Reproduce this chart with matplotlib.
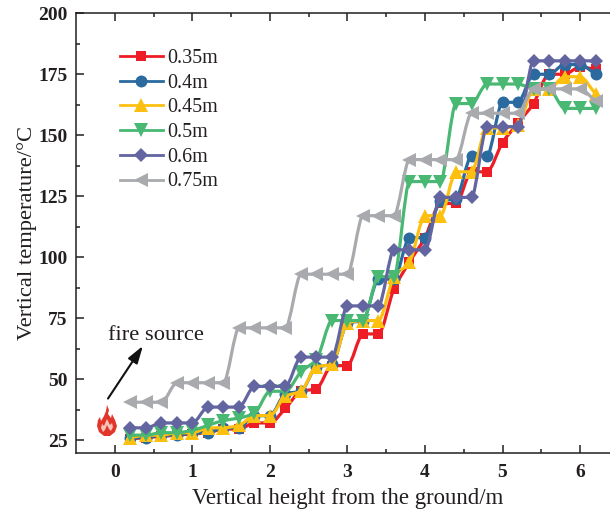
import matplotlib
matplotlib.use('Agg')
import numpy as np
import matplotlib.pyplot as plt
from matplotlib.path import Path
from matplotlib.patches import PathPatch

plt.rcParams['font.family'] = ['Liberation Serif', 'DejaVu Serif']

heights = [round(0.2 * i, 1) for i in range(1, 32)]
t_035 = [25.5, 26, 26.5, 27, 27.5, 28, 29.5, 29.5, 32, 32, 38, 45, 46, 55.5, 55.5, 68.5,
         68.5, 87, 98, 108, 122, 122, 135, 135, 147, 155, 163, 175, 175, 178, 177]
t_04 = [26, 26, 27, 27, 28, 28, 30, 30, 35, 35, 44, 45, 55, 56, 73, 74,
        91, 91, 108, 108, 123, 124, 141.5, 141.5, 163.5, 163.5, 175, 175, 179, 179, 175]
t_045 = [26, 27, 27, 28, 28, 30, 30, 31, 35, 35, 43, 45, 55, 56, 73, 74,
         74, 92, 98, 117, 117, 135, 135, 153, 153, 154, 169, 169, 174, 174, 167]
t_05 = [27, 27, 28, 28, 29, 31, 33, 34, 36, 45, 45, 53, 58, 74, 74, 74,
        92, 92, 131, 131, 131, 163, 163, 171, 171, 171, 169, 169, 161, 161, 161]
t_06 = [30, 30, 32, 32, 32, 38.5, 38.5, 38.5, 47, 47, 47, 59, 59, 59, 80, 80,
        80, 103, 103, 103, 124.5, 124.5, 124.5, 153.5, 153.5, 153.5, 180.5, 180.5, 180.5, 180.5, 180.5]
t_075 = [40.5, 40.5, 40.5, 48.5, 48.5, 48.5, 48.5, 71, 71, 71, 71, 93, 93, 93, 93, 117,
         117, 117, 140, 140, 140, 140, 159, 159, 159, 159, 169, 169, 169, 169, 164]
labels = ['0.35m', '0.4m', '0.45m', '0.5m', '0.6m', '0.75m']
series = [t_035, t_04, t_045, t_05, t_06, t_075]
colors = ['#ee1c25', '#2b6a9f', '#fdc010', '#48b872', '#62659f', '#a9aaae']
markers = ['s', 'o', '^', 'v', 'D', '<']
msizes = [7.2, 8.6, 10, 10, 7.6, 10]
xticks = [0, 1, 2, 3, 4, 5, 6]
yticks = [25, 50, 75, 100, 125, 150, 175, 200]
INK = '#231f20'

W, H = 610, 509
L, R, T, B = 76, 610, 13.3, 452.7
fig = plt.figure(figsize=(W / 100, H / 100), dpi=100)
ax = fig.add_axes([L / W, 1 - B / H, (R - L) / W, (B - T) / H])
ax.set_xlim(-0.503, 6.387)
ax.set_ylim(19.8, 200)


def smooth_path(xs, ys, reach=0.3):
    """Monotone Bezier path through the data points, flat on plateaus."""
    xs, ys = np.asarray(xs), np.asarray(ys, float)
    n = len(xs)
    h = xs[1] - xs[0]
    d = np.diff(ys) / h
    m = np.zeros(n)
    for i in range(1, n - 1):
        if d[i - 1] * d[i] > 0:
            m[i] = 2 * d[i - 1] * d[i] / (d[i - 1] + d[i])
    m[0], m[-1] = d[0], d[-1]
    verts, codes = [(xs[0], ys[0])], [Path.MOVETO]
    for i in range(n - 1):
        verts += [(xs[i] + h * reach, ys[i] + m[i] * h * reach),
                  (xs[i + 1] - h * reach, ys[i + 1] - m[i + 1] * h * reach),
                  (xs[i + 1], ys[i + 1])]
        codes += [Path.CURVE4] * 3
    return Path(verts, codes)


for lab, vals, c, mk, ms in zip(labels, series, colors, markers, msizes):
    ax.add_patch(PathPatch(smooth_path(heights, vals), fc='none', ec=c, lw=2.3, zorder=3))
    ax.plot(heights, vals, ls='none', marker=mk, ms=ms, color=c, mew=0, zorder=3, clip_on=False)
    ax.plot([], [], color=c, lw=2.0, marker=mk, ms=ms, mew=0, label=lab)

ax.legend(loc='upper left', bbox_to_anchor=((119.5 - L) / (R - L), (B - 49) / (B - T)), frameon=False, fontsize=14.4,
          labelcolor=INK, handlelength=2.15, handletextpad=0.25, labelspacing=0.285,
          borderpad=0, borderaxespad=0)

ax.spines['right'].set_visible(False)
for s in ['left', 'bottom', 'top']:
    ax.spines[s].set_linewidth(1.1)
    ax.spines[s].set_color(INK)
ax.set_xticks(xticks)
ax.set_xticks([0.5 + i for i in range(6)], minor=True)
ax.set_yticks(yticks)
ax.set_yticks([37.5 + 25 * i for i in range(7)], minor=True)
ax.tick_params(axis='both', which='major', direction='in', length=6, width=1.1, labelsize=14,
               color=INK, labelcolor=INK, top=True)
ax.tick_params(axis='x', which='major', pad=8)
ax.tick_params(axis='y', which='major', pad=6)
ax.tick_params(axis='both', which='minor', direction='in', length=3, width=1.1, color=INK, top=True)
for t in ax.get_xticklabels() + ax.get_yticklabels():
    t.set_fontweight('bold')
ax.set_xlabel('Vertical height from the ground/m', fontsize=16.4, color=INK, labelpad=5, x=0.508)
ax.set_ylabel('Vertical temperature/°C', fontsize=16.2, color=INK, labelpad=1)

ax.annotate('', xy=(0.36, 63.6), xytext=(-0.09, 42), annotation_clip=False,
            arrowprops=dict(arrowstyle='-|>,head_length=0.7,head_width=0.22', color='#111111', lw=1.5,
                            mutation_scale=15, shrinkA=0, shrinkB=0))
ax.text(-0.09, 68, 'fire source', fontsize=16.2, color=INK, va='center', ha='left')

# flame icon
fl = fig.add_axes([97 / W, 1 - 436 / H, 20 / W, 31 / H])
fl.axis('off')
fl.set_xlim(0, 20)
fl.set_ylim(31, 0)
outer = [(10, 0), (12, 5), (11, 9), (14, 13), (15, 9), (18, 15), (20, 21), (18, 27), (13, 31), (7, 31),
         (2, 27), (0, 21), (1, 15), (3, 12), (4, 16), (7, 11), (9, 6)]
gap = [(10, 14), (13, 20), (15, 18), (16, 22), (14, 26), (12, 24), (10, 20), (8, 25), (6, 27), (4, 23), (5, 19), (7, 21)]
fl.fill(*zip(*outer), color='#e2362b', lw=0)
fl.fill(*zip(*gap), color='#f6c4b8', lw=0)

fig.savefig('out.png', dpi=100)
